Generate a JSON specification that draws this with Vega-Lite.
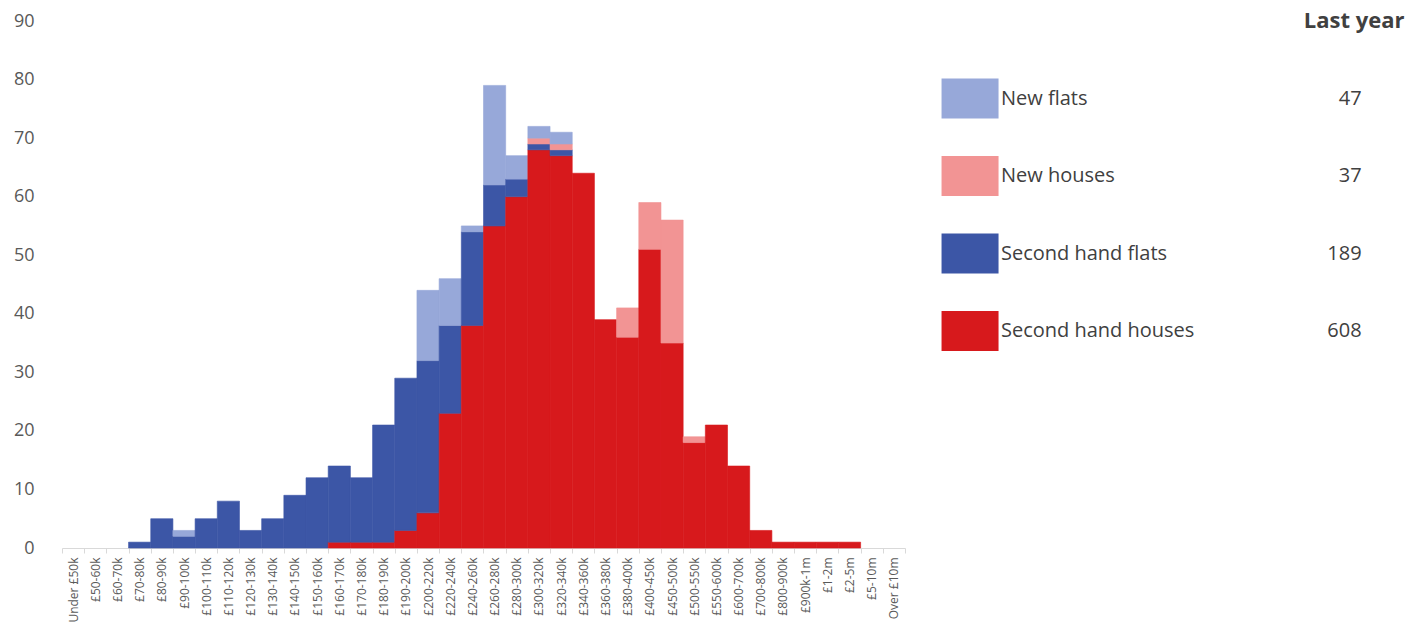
{
"$schema":"https://vega.github.io/schema/vega-lite/v6.json",
"padding":{"top":10,"left":5,"right":0,"bottom":5},
"config":{"font":"Open Sans","view":{"stroke":null},"concat":{"spacing":35}},
"datasets":{
"bars":[
{"band":"£70-80k","type":"Second hand flats","n":1},
{"band":"£80-90k","type":"Second hand flats","n":5},
{"band":"£90-100k","type":"Second hand flats","n":2},
{"band":"£90-100k","type":"New flats","n":1},
{"band":"£100-110k","type":"Second hand flats","n":5},
{"band":"£110-120k","type":"Second hand flats","n":8},
{"band":"£120-130k","type":"Second hand flats","n":3},
{"band":"£130-140k","type":"Second hand flats","n":5},
{"band":"£140-150k","type":"Second hand flats","n":9},
{"band":"£150-160k","type":"Second hand flats","n":12},
{"band":"£160-170k","type":"Second hand houses","n":1},
{"band":"£160-170k","type":"Second hand flats","n":13},
{"band":"£170-180k","type":"Second hand houses","n":1},
{"band":"£170-180k","type":"Second hand flats","n":11},
{"band":"£180-190k","type":"Second hand houses","n":1},
{"band":"£180-190k","type":"Second hand flats","n":20},
{"band":"£190-200k","type":"Second hand houses","n":3},
{"band":"£190-200k","type":"Second hand flats","n":26},
{"band":"£200-220k","type":"Second hand houses","n":6},
{"band":"£200-220k","type":"Second hand flats","n":26},
{"band":"£200-220k","type":"New flats","n":12},
{"band":"£220-240k","type":"Second hand houses","n":23},
{"band":"£220-240k","type":"Second hand flats","n":15},
{"band":"£220-240k","type":"New flats","n":8},
{"band":"£240-260k","type":"Second hand houses","n":38},
{"band":"£240-260k","type":"Second hand flats","n":16},
{"band":"£240-260k","type":"New flats","n":1},
{"band":"£260-280k","type":"Second hand houses","n":55},
{"band":"£260-280k","type":"Second hand flats","n":7},
{"band":"£260-280k","type":"New flats","n":17},
{"band":"£280-300k","type":"Second hand houses","n":60},
{"band":"£280-300k","type":"Second hand flats","n":3},
{"band":"£280-300k","type":"New flats","n":4},
{"band":"£300-320k","type":"Second hand houses","n":68},
{"band":"£300-320k","type":"Second hand flats","n":1},
{"band":"£300-320k","type":"New houses","n":1},
{"band":"£300-320k","type":"New flats","n":2},
{"band":"£320-340k","type":"Second hand houses","n":67},
{"band":"£320-340k","type":"Second hand flats","n":1},
{"band":"£320-340k","type":"New houses","n":1},
{"band":"£320-340k","type":"New flats","n":2},
{"band":"£340-360k","type":"Second hand houses","n":64},
{"band":"£360-380k","type":"Second hand houses","n":39},
{"band":"£380-400k","type":"Second hand houses","n":36},
{"band":"£380-400k","type":"New houses","n":5},
{"band":"£400-450k","type":"Second hand houses","n":51},
{"band":"£400-450k","type":"New houses","n":8},
{"band":"£450-500k","type":"Second hand houses","n":35},
{"band":"£450-500k","type":"New houses","n":21},
{"band":"£500-550k","type":"Second hand houses","n":18},
{"band":"£500-550k","type":"New houses","n":1},
{"band":"£550-600k","type":"Second hand houses","n":21},
{"band":"£600-700k","type":"Second hand houses","n":14},
{"band":"£700-800k","type":"Second hand houses","n":3},
{"band":"£800-900k","type":"Second hand houses","n":1},
{"band":"£900k-1m","type":"Second hand houses","n":1},
{"band":"£1-2m","type":"Second hand houses","n":1},
{"band":"£2-5m","type":"Second hand houses","n":1}
],
"legend":[
{"row":"h","label":"","count":"","type":""},
{"row":"a","label":"New flats","count":"47","type":"New flats"},
{"row":"b","label":"New houses","count":"37","type":"New houses"},
{"row":"c","label":"Second hand flats","count":"189","type":"Second hand flats"},
{"row":"d","label":"Second hand houses","count":"608","type":"Second hand houses"}
]},
"hconcat":[
{"width":843,"height":527,"data":{"name":"bars"},
"transform":[{"calculate":"indexof(['Second hand houses','Second hand flats','New houses','New flats'], datum.type)","as":"o"}],
"mark":{"type":"bar","strokeWidth":0.6},
"encoding":{
"x":{"field":"band","type":"ordinal","title":null,
"sort":["Under £50k","£50-60k","£60-70k","£70-80k","£80-90k","£90-100k","£100-110k","£110-120k","£120-130k","£130-140k","£140-150k","£150-160k","£160-170k","£170-180k","£180-190k","£190-200k","£200-220k","£220-240k","£240-260k","£260-280k","£280-300k","£300-320k","£320-340k","£340-360k","£360-380k","£380-400k","£400-450k","£450-500k","£500-550k","£550-600k","£600-700k","£700-800k","£800-900k","£900k-1m","£1-2m","£2-5m","£5-10m","Over £10m"],
"scale":{"domain":["Under £50k","£50-60k","£60-70k","£70-80k","£80-90k","£90-100k","£100-110k","£110-120k","£120-130k","£130-140k","£140-150k","£150-160k","£160-170k","£170-180k","£180-190k","£190-200k","£200-220k","£220-240k","£240-260k","£260-280k","£280-300k","£300-320k","£320-340k","£340-360k","£360-380k","£380-400k","£400-450k","£450-500k","£500-550k","£550-600k","£600-700k","£700-800k","£800-900k","£900k-1m","£1-2m","£2-5m","£5-10m","Over £10m"],"paddingInner":0,"paddingOuter":0},
"axis":{"labelAngle":-90,"labelFontSize":12,"labelColor":"#595959","domainColor":"#d9d9d9","tickColor":"#d9d9d9","tickBand":"extent","labelPadding":4}},
"y":{"field":"n","type":"quantitative","aggregate":"sum","stack":"zero","title":null,
"scale":{"domain":[0,90]},
"axis":{"values":[0,10,20,30,40,50,60,70,80,90],"grid":false,"domain":false,"ticks":false,"labelFontSize":18,"labelColor":"#595959","minExtent":57,"labelPadding":28}},
"color":{"field":"type","type":"nominal","legend":null,
"scale":{"domain":["New flats","New houses","Second hand flats","Second hand houses"],"range":["#97a8d9","#f29494","#3c56a6","#d7191c"]}},
"stroke":{"field":"type","type":"nominal","legend":null,
"scale":{"domain":["New flats","New houses","Second hand flats","Second hand houses"],"range":["#97a8d9","#f29494","#3c56a6","#d7191c"]}},
"order":{"field":"o","type":"quantitative"}
}},
{"width":465,"height":310,"data":{"name":"legend"},
"encoding":{"y":{"field":"row","type":"ordinal","scale":{"type":"point","padding":0,"domain":["h","a","b","c","d"]},"axis":null}},
"layer":[
{"transform":[{"filter":"datum.row != 'h'"}],
"mark":{"type":"rect","width":57,"height":40},
"encoding":{"x":{"datum":28,"type":"quantitative","scale":{"domain":[0,465]},"axis":null},
"color":{"field":"type","type":"nominal","legend":null,"scale":{"domain":["New flats","New houses","Second hand flats","Second hand houses"],"range":["#97a8d9","#f29494","#3c56a6","#d7191c"]}}}},
{"mark":{"type":"text","align":"left","fontSize":20,"color":"#404040","dx":3},
"encoding":{"x":{"datum":58,"type":"quantitative"},"text":{"field":"label"}}},
{"mark":{"type":"text","align":"right","fontSize":20,"color":"#404040"},
"encoding":{"x":{"datum":449,"type":"quantitative"},"text":{"field":"count"}}},
{"transform":[{"filter":"datum.row == 'h'"}],
"mark":{"type":"text","align":"right","fontSize":22,"fontWeight":"bold","color":"#404040","text":"Last year","dx":28},
"encoding":{"x":{"datum":465,"type":"quantitative"}}}
]}
]
}
